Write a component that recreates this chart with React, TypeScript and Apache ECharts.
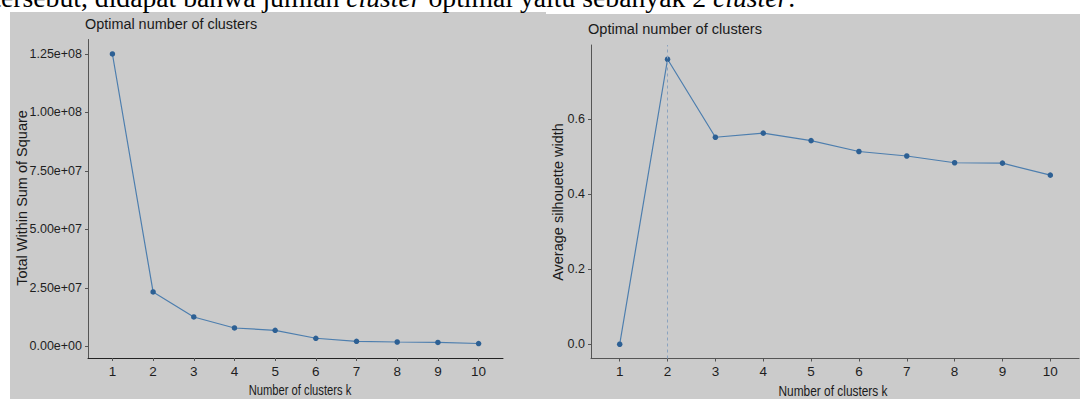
import React, { useEffect, useRef } from "react";
import * as echarts from "echarts";

// ---- data ----
const kValues = [1, 2, 3, 4, 5, 6, 7, 8, 9, 10];
const wssValues = [1.25e8, 2.32e7, 1.25e7, 7.8e6, 6.8e6, 3.4e6, 2.1e6, 1.8e6, 1.6e6, 1.15e6];
const silhouetteValues = [0, 0.76, 0.552, 0.563, 0.543, 0.514, 0.502, 0.484, 0.483, 0.451];
const wssTicks = [0, 2.5e7, 5e7, 7.5e7, 1e8, 1.25e8];
const wssTickLabels = ["0.00e+00", "2.50e+07", "5.00e+07", "7.50e+07", "1.00e+08", "1.25e+08"];
const silTicks = [0, 0.2, 0.4, 0.6];
const silTickLabels = ["0.0", "0.2", "0.4", "0.6"];
const optimalK = 2;
const chartTitle = "Optimal number of clusters";
const xTitle = "Number of clusters k";
const yTitleLeft = "Total Within Sum of Square";
const yTitleRight = "Average silhouette width";
const captionText = "tersebut, didapat bahwa jumlah {i|cluster} optimal yaitu sebanyak 2 {i|cluster}.";

const SANS = "'Liberation Sans', Arial, Helvetica, sans-serif";
const SERIF = "'Liberation Serif', 'Times New Roman', serif";
const PANEL = "#cbcbcb";
const LINE = "#4d7eae";
const POINT = "#2d6094";

function expand(vals: number[]) {
  const lo = Math.min(...vals);
  const hi = Math.max(...vals);
  const pad = (hi - lo) * 0.05;
  return [lo - pad, hi + pad];
}

function labelFor(ticks: number[], labels: string[]) {
  return (v: number) => {
    const i = ticks.findIndex((t) => Math.abs(t - v) < 1e-9 * Math.max(1, Math.abs(t)));
    return i >= 0 ? labels[i] : "";
  };
}

export default function App() {
  const ref = useRef<HTMLDivElement>(null);
  useEffect(() => {
    if (!ref.current) return;
    const chart = echarts.init(ref.current, undefined, { renderer: "svg" });
    const [wMin, wMax] = expand(wssValues);
    const [sMin, sMax] = expand(silhouetteValues);
    const xAxisBase = (idx: number, axisColor: string) => ({
      type: "value" as const,
      gridIndex: idx,
      min: 0.4,
      max: 10.6,
      axisLine: { show: true, onZero: false, lineStyle: { color: axisColor, width: 1 } },
      axisTick: { show: true, customValues: kValues, length: 3, lineStyle: { color: "#555" } },
      axisLabel: {
        customValues: kValues,
        color: "#1e1e1e",
        fontFamily: SANS,
        fontSize: 13.5,
        margin: 6,
      },
      splitLine: { show: false },
    });
    const yAxisBase = (idx: number, min: number, max: number, ticks: number[], labels: string[], axisColor: string) => ({
      type: "value" as const,
      gridIndex: idx,
      min,
      max,
      axisLine: { show: true, onZero: false, lineStyle: { color: axisColor, width: 1 } },
      axisTick: { show: true, customValues: ticks, length: 3, lineStyle: { color: "#555" } },
      axisLabel: {
        customValues: ticks,
        formatter: labelFor(ticks, labels),
        color: "#1e1e1e",
        fontFamily: SANS,
        fontSize: 12.5,
        margin: 6,
      },
      splitLine: { show: false },
    });
    const text = (t: string, x: number, y: number, size: number, extra: Record<string, unknown> = {}, align = "center") => ({
      type: "text",
      x,
      y,
      ...extra,
      style: { text: t, fontFamily: SANS, fontSize: size, fill: "#1a1a1a", align, verticalAlign: "middle" },
    });
    chart.setOption({
      animation: false,
      backgroundColor: "#ffffff",
      grid: [
        { left: 88, top: 39.5, width: 415, height: 318.5 },
        { left: 591, top: 45, width: 488, height: 313.5 },
      ],
      xAxis: [xAxisBase(0, "#222"), xAxisBase(1, "#555")],
      yAxis: [
        yAxisBase(0, wMin, wMax, wssTicks, wssTickLabels, "#555"),
        yAxisBase(1, sMin, sMax, silTicks, silTickLabels, "#555"),
      ],
      graphic: [
        { type: "rect", z: -10, shape: { x: 10, y: 12, width: 536, height: 400 }, style: { fill: PANEL } },
        { type: "rect", z: -10, shape: { x: 546, y: 14, width: 540, height: 400 }, style: { fill: PANEL } },
        {
          type: "text",
          z: 10,
          x: -6.7,
          y: -2.5,
          style: {
            text: captionText,
            fontFamily: SERIF,
            fontSize: 27.7,
            fill: "#000",
            verticalAlign: "middle",
            align: "left",
            rich: { i: { fontStyle: "italic", fontFamily: SERIF, fontSize: 27.7, fill: "#000" } },
          },
        },
        text(chartTitle, 85, 23.5, 15.5, { scaleX: 0.93 }, "left"),
        text(chartTitle, 588, 28.5, 15.5, { scaleX: 0.94 }, "left"),
        text(yTitleLeft, 22, 198, 14.5, { rotation: Math.PI / 2 }),
        text(yTitleRight, 558, 202, 14.5, { rotation: Math.PI / 2 }),
        text(xTitle, 300, 391, 14, { scaleX: 0.8 }),
        text(xTitle, 833, 391, 14, { scaleX: 0.85 }),
      ],
      series: [
        {
          type: "line",
          xAxisIndex: 0,
          yAxisIndex: 0,
          data: kValues.map((k, i) => [k, wssValues[i]]),
          symbol: "circle",
          symbolSize: 5.5,
          lineStyle: { color: LINE, width: 1.2 },
          itemStyle: { color: POINT },
        },
        {
          type: "line",
          xAxisIndex: 1,
          yAxisIndex: 1,
          data: kValues.map((k, i) => [k, silhouetteValues[i]]),
          symbol: "circle",
          symbolSize: 5.5,
          lineStyle: { color: LINE, width: 1.2 },
          itemStyle: { color: POINT },
          markLine: {
            silent: true,
            symbol: "none",
            label: { show: false },
            lineStyle: { type: [3, 3], color: "#8aa3c0", width: 1 },
            data: [{ xAxis: optimalK }],
          },
        },
      ],
    });
    return () => chart.dispose();
  }, []);
  return <div ref={ref} style={{ position: "absolute", left: 0, top: 0, width: 1080, height: 399 }} />;
}
